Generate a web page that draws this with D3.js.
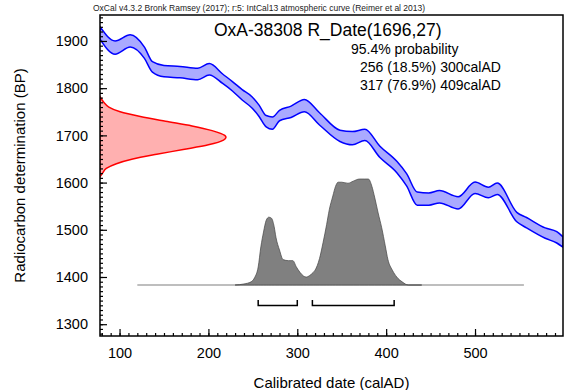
<!DOCTYPE html>
<html>
<head>
<meta charset="utf-8">
<script src="https://cdn.jsdelivr.net/npm/d3@7"></script>
<style>
  body { margin: 0; background: #fff; }
  text { font-family: "Liberation Sans", Arial, sans-serif; }
</style>
</head>
<body>
<svg id="svg1" width="566" height="390"></svg>
<script>
// courbe de calibration IntCal13 : année calAD, BP moyen, sigma
var curveYears = [78, 95, 112, 128, 137, 150, 168, 188, 201, 216, 227, 238, 249, 257, 265, 272, 280, 293, 308, 325, 348, 362, 376, 393, 412, 423, 435, 448, 460, 481, 500, 515, 525, 547, 558, 579, 592, 599];
var curveBP    = [1917, 1886, 1900, 1875, 1845, 1836, 1834, 1830, 1840, 1820, 1804, 1786, 1770, 1752, 1730, 1726, 1742, 1750, 1763, 1735, 1699, 1694, 1701, 1665, 1633, 1606, 1566, 1565, 1570, 1557, 1589, 1579, 1587, 1527, 1515, 1493, 1484, 1474];
var curveSigma = [13, 14, 13, 12, 11, 12, 12, 12, 12, 10, 10, 11, 12, 12, 12, 13, 11, 12, 13, 13, 12, 14, 12, 12, 12, 13, 14, 13, 13, 13, 12, 11, 12, 10, 11, 11, 12, 11];

// mesure radiocarbone (en rouge sur l'axe vertical)
var rdateBP      = [1782, 1770, 1760, 1750, 1740, 1730, 1720, 1710, 1700, 1696, 1690, 1680, 1670, 1660, 1650, 1640, 1630, 1620, 1612];
var rdateDensity = [0, 0.03, 0.07, 0.16, 0.32, 0.52, 0.73, 0.89, 0.99, 1, 0.98, 0.86, 0.66, 0.45, 0.26, 0.13, 0.05, 0.02, 0];

// distribution calibrée (en gris)
var postYears   = [120, 230, 240, 248, 252, 256, 259, 262, 265, 268, 271, 274, 276, 280, 284, 290, 295, 299, 303, 307, 310, 314, 318, 320, 325, 329, 333, 336, 340, 343, 346, 350, 357, 363, 370, 376, 380, 384, 387, 391, 395, 399, 402, 407, 412, 418, 425, 440, 555];
var postDensity = [0, 0, 0.01, 0.03, 0.07, 0.17, 0.36, 0.5, 0.61, 0.64, 0.63, 0.55, 0.45, 0.33, 0.24, 0.23, 0.23, 0.17, 0.12, 0.085, 0.075, 0.09, 0.12, 0.14, 0.25, 0.4, 0.57, 0.71, 0.84, 0.93, 0.97, 0.97, 0.96, 0.98, 1, 1, 1, 0.93, 0.83, 0.68, 0.54, 0.37, 0.24, 0.14, 0.075, 0.03, 0, 0, 0];

// intervalles 95.4%
var rangeFrom = [256, 317];
var rangeTo   = [300, 409];
var rangePct  = ["18.5%", "76.9%"];

// graduations
var xTicks = [100, 200, 300, 400, 500];
var yTicks = [1300, 1400, 1500, 1600, 1700, 1800, 1900];

var svg = d3.select("#svg1");
var margin = {top: 15, right: 3, bottom: 54, left: 100},
    width = 566 - margin.left - margin.right,
    height = 390 - margin.top - margin.bottom;

// échelles
var xScale = d3.scaleLinear().domain([78, 599]).range([margin.left, margin.left + width]);
var yScale = d3.scaleLinear().domain([1275, 1955]).range([margin.top + height, margin.top]);
var redScale = d3.scaleLinear().domain([0, 1]).range([margin.left, margin.left + 126]);
var postBase = yScale(1383);
var greyScale = d3.scaleLinear().domain([0, 1]).range([postBase, postBase - 106]);

svg.append("clipPath").attr("id", "clip")
    .append("rect")
    .attr("x", margin.left).attr("y", margin.top)
    .attr("width", width).attr("height", height);

var plot = svg.append("g").attr("clip-path", "url(#clip)");

// courbe de calibration (bande bleue)
var curveData = curveYears.map((y, i) => ({year: y, bp: curveBP[i], s: curveSigma[i]}));
plot.append("path")
    .datum(curveData)
    .attr("fill", "#aaaaff")
    .attr("stroke", "#0000ff")
    .attr("stroke-width", 1.5)
    .attr("d", d3.area()
        .curve(d3.curveMonotoneX)
        .x(d => xScale(d.year))
        .y0(d => yScale(d.bp - d.s))
        .y1(d => yScale(d.bp + d.s)));

// distribution de la date radiocarbone
var rdateData = rdateBP.map((b, i) => ({bp: b, p: rdateDensity[i]}));
plot.append("path")
    .datum(rdateData)
    .attr("fill", "#ffb0b0")
    .attr("stroke", "#ff0000")
    .attr("stroke-width", 1.5)
    .attr("d", d3.area()
        .curve(d3.curveMonotoneY)
        .y(d => yScale(d.bp))
        .x0(margin.left)
        .x1(d => redScale(d.p)));

// ligne de base grise
plot.append("line")
    .attr("x1", xScale(postYears[0])).attr("x2", xScale(postYears[postYears.length - 1]))
    .attr("y1", postBase).attr("y2", postBase)
    .attr("stroke", "#a8a8a8")
    .attr("stroke-width", 1.5);

// distribution calibrée
var postData = postYears.map((y, i) => ({year: y, p: postDensity[i]}));
plot.append("path")
    .datum(postData.filter(d => d.year >= 230 && d.year <= 440))
    .attr("fill", "#808080")
    .attr("stroke", "#444")
    .attr("stroke-width", 0.7)
    .attr("d", d3.area()
        .curve(d3.curveMonotoneX)
        .x(d => xScale(d.year))
        .y0(postBase)
        .y1(d => greyScale(d.p)));

// crochets des intervalles
plot.selectAll(".range")
    .data(rangeFrom)
    .enter()
    .append("path")
    .attr("fill", "none")
    .attr("stroke", "#000")
    .attr("stroke-width", 1.5)
    .attr("d", (d, i) => `M${xScale(d)},${postBase + 15}V${postBase + 20.5}H${xScale(rangeTo[i])}V${postBase + 15}`);

// axe des abscisses (graduations vers l'intérieur)
svg.append("g")
    .attr("transform", `translate(0, ${margin.top + height})`)
    .call(d3.axisBottom(xScale).tickValues(d3.range(80, 600, 10)).tickSize(-3).tickFormat(""))
    .call(g => g.select(".domain").remove());
svg.append("g")
    .attr("transform", `translate(0, ${margin.top + height})`)
    .call(d3.axisBottom(xScale).tickValues(xTicks).tickSize(-7).tickPadding(12).tickFormat(d3.format("d")))
    .call(g => g.select(".domain").remove())
    .call(g => g.selectAll("text").attr("font-size", 14.5).attr("font-family", "Liberation Sans, Arial, sans-serif"));

// axe des ordonnées
svg.append("g")
    .attr("transform", `translate(${margin.left}, 0)`)
    .call(d3.axisLeft(yScale).tickValues(d3.range(1280, 1960, 10)).tickSize(-3).tickFormat(""))
    .call(g => g.select(".domain").remove());
svg.append("g")
    .attr("transform", `translate(${margin.left}, 0)`)
    .call(d3.axisLeft(yScale).tickValues(yTicks).tickSize(-7).tickPadding(12).tickFormat(d3.format("d")))
    .call(g => g.select(".domain").remove())
    .call(g => g.selectAll("text").attr("font-size", 14.5).attr("font-family", "Liberation Sans, Arial, sans-serif"));

svg.selectAll(".tick line").attr("stroke-width", 1.2);

// cadre
svg.append("rect")
    .attr("x", margin.left).attr("y", margin.top)
    .attr("width", width).attr("height", height)
    .attr("fill", "none")
    .attr("stroke", "#000")
    .attr("stroke-width", 1.5);

// textes
svg.append("text")
    .attr("x", 93).attr("y", 11)
    .attr("font-size", 8.5)
    .attr("fill", "#222")
    .text("OxCal v4.3.2 Bronk Ramsey (2017); r:5: IntCal13 atmospheric curve (Reimer et al 2013)");

svg.append("text")
    .attr("x", 214).attr("y", 36)
    .attr("font-size", 17.5)
    .text("OxA-38308 R_Date(1696,27)");

svg.append("text")
    .attr("x", 351).attr("y", 54)
    .attr("font-size", 14)
    .text("95.4% probability");

svg.selectAll(".rangeText")
    .data(rangeFrom)
    .enter()
    .append("text")
    .attr("x", 360)
    .attr("y", (d, i) => 72 + i * 18)
    .attr("font-size", 14)
    .text((d, i) => `${d} (${rangePct[i]}) ${rangeTo[i]}calAD`);

svg.append("text")
    .attr("transform", `translate(25, ${margin.top + height / 2}) rotate(-90)`)
    .style("text-anchor", "middle")
    .attr("font-size", 15)
    .text("Radiocarbon determination (BP)");

svg.append("text")
    .attr("x", margin.left + width / 2).attr("y", 388)
    .style("text-anchor", "middle")
    .attr("font-size", 15)
    .text("Calibrated date (calAD)");
</script>
</body>
</html>
